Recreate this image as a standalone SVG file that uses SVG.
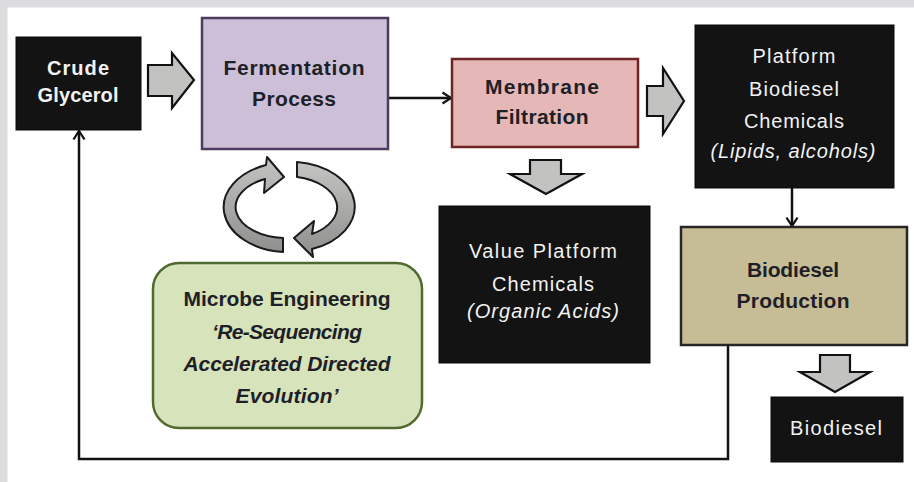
<svg xmlns="http://www.w3.org/2000/svg" width="914" height="482" viewBox="0 0 914 482">
<style>
  .t { font-family: "Liberation Sans", Arial, sans-serif; text-anchor: middle; }
  .b { font-weight: bold; font-size: 21px; fill: #1f1f28; }
  .w { font-size: 20px; fill: #f2f2f2; }
  .wb { font-weight: bold; font-size: 20px; fill: #f2f2f2; }
  .i { font-style: italic; }
  .blk { fill: #131313; stroke: #0a0a0a; stroke-width: 1; }
  .blockarrow { fill: #c2c2c0; stroke: #111; stroke-width: 2.2; stroke-linejoin: miter; }
  .cyc { fill: #a9aaa8; stroke: #1a1a1a; stroke-width: 2; stroke-linejoin: round; }
  .conn { fill: none; stroke: #111; stroke-width: 2.5; }
</style>
<defs>
  <marker id="ah" viewBox="0 0 14 14" refX="12.5" refY="7" markerWidth="14" markerHeight="14" markerUnits="userSpaceOnUse" orient="auto">
    <path d="M4,1.5 L12.5,7 L4,12.5" fill="none" stroke="#111" stroke-width="2.3"/>
  </marker>
  <linearGradient id="cg" x1="0" y1="0" x2="0" y2="1">
    <stop offset="0" stop-color="#c4c5c3"/>
    <stop offset="1" stop-color="#8f908e"/>
  </linearGradient>
</defs>
<rect x="0" y="0" width="914" height="482" fill="#ffffff"/>
<rect x="0" y="0" width="914" height="7.5" fill="#dcdcde"/>
<rect x="0" y="0" width="7.5" height="482" fill="#dcdcde"/>

<g id="connectors">
  <path class="conn" d="M388,98 H451" marker-end="url(#ah)"/>
  <path class="conn" d="M792,188 V226" marker-end="url(#ah)"/>
  <path class="conn" d="M728,345 V459 H79 V131" marker-end="url(#ah)"/>
  <polygon class="blockarrow" points="148,65 172,65 172,53 194,80 172,108 172,96 148,96"/>
  <polygon class="blockarrow" points="647,86 663,86 663,68 684,101 663,134 663,116 647,116"/>
  <polygon class="blockarrow" points="530,160 561,160 561,174 582,174 546,194 510,174 530,174"/>
  <polygon class="blockarrow" points="820,355 850,355 850,372 870,372 835,392 800,372 820,372"/>
  <path class="cyc" style="fill:url(#cg)" d="M283,252 A65,45 0 0 1 266,165 L267,157 L284,177 L264,193 L265,179 A51,31 0 0 0 283,238 Z"/>
  <path class="cyc" style="fill:url(#cg)" d="M297,162 A65,45 0 0 1 312,249 L313,257 L294,238 L314,221 L312,234 A51,31 0 0 0 297,177 Z"/>
</g>

<g id="crude-glycerol">
  <rect class="blk" x="16" y="37" width="125" height="93"/>
  <text class="t wb" x="78" y="75" textLength="62">Crude</text>
  <text class="t wb" x="78" y="102" textLength="81">Glycerol</text>
</g>

<g id="fermentation">
  <rect x="202" y="18" width="186" height="131" fill="#cdbfd7" stroke="#4e3c5e" stroke-width="2.5"/>
  <text class="t b" x="294" y="75" textLength="141">Fermentation</text>
  <text class="t b" x="294" y="106" textLength="84">Process</text>
</g>

<g id="membrane">
  <rect x="452" y="59" width="186" height="88" fill="#e5b7b6" stroke="#6e2424" stroke-width="2.5"/>
  <text class="t b" x="542" y="94" textLength="114">Membrane</text>
  <text class="t b" x="542" y="124" textLength="93">Filtration</text>
</g>

<g id="platform-biodiesel">
  <rect class="blk" x="695" y="25" width="199" height="163"/>
  <text class="t w" x="794" y="63" textLength="83">Platform</text>
  <text class="t w" x="794" y="96" textLength="90">Biodiesel</text>
  <text class="t w" x="794" y="128" textLength="100">Chemicals</text>
  <text class="t w i" x="793" y="158" textLength="165">(Lipids, alcohols)</text>
</g>

<g id="value-platform">
  <rect class="blk" x="439" y="206" width="211" height="157"/>
  <text class="t w" x="543" y="258" textLength="148">Value Platform</text>
  <text class="t w" x="543" y="291" textLength="102">Chemicals</text>
  <text class="t w i" x="543" y="318" textLength="152">(Organic Acids)</text>
</g>

<g id="biodiesel-production">
  <rect x="681" y="227" width="226" height="118" fill="#c6bd97" stroke="#262626" stroke-width="2.5"/>
  <text class="t b" x="793" y="277" textLength="92">Biodiesel</text>
  <text class="t b" x="793" y="308" textLength="113">Production</text>
</g>

<g id="biodiesel">
  <rect class="blk" x="771" y="397" width="132" height="65"/>
  <text class="t w" x="836" y="435" textLength="92">Biodiesel</text>
</g>

<g id="microbe-engineering">
  <rect x="153" y="263" width="269" height="165" rx="26" ry="26" fill="#d7e3bb" stroke="#4f6a2c" stroke-width="2.5"/>
  <text class="t b" x="287" y="306" textLength="207">Microbe Engineering</text>
  <text class="t b i" x="287" y="339" textLength="150">‘Re-Sequencing</text>
  <text class="t b i" x="287" y="371" textLength="207">Accelerated Directed</text>
  <text class="t b i" x="287" y="403" textLength="103">Evolution’</text>
</g>
</svg>
